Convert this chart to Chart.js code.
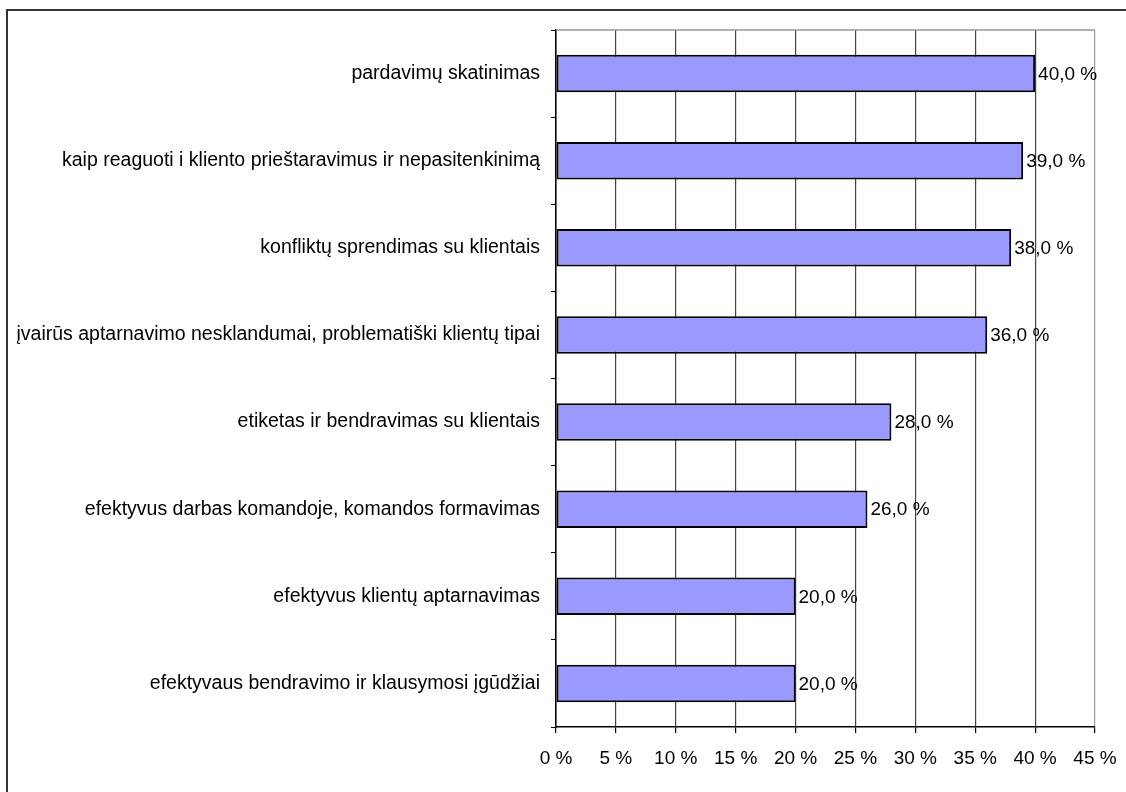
<!DOCTYPE html>
<html>
<head>
<meta charset="utf-8">
<script src="https://cdn.jsdelivr.net/npm/chart.js@4/dist/chart.umd.min.js"></script>
<style>
    body { margin: 0; background: #fff; }
</style>
</head>
<body>
<canvas id="myChart" width="1126" height="792"></canvas>
<script>
const labels = [
    'pardavimų skatinimas',
    'kaip reaguoti i kliento prieštaravimus ir nepasitenkinimą',
    'konfliktų sprendimas su klientais',
    'įvairūs aptarnavimo nesklandumai, problematiški klientų tipai',
    'etiketas ir bendravimas su klientais',
    'efektyvus darbas komandoje, komandos formavimas',
    'efektyvus klientų aptarnavimas',
    'efektyvaus bendravimo ir klausymosi įgūdžiai'
];
const values = [40, 39, 38, 36, 28, 26, 20, 20];
const xMax = 45;
const xStep = 5;

const fontFamily = '"Liberation Sans", Arial, sans-serif';

// outer frame + top border of the plot
const framePlugin = {
    id: 'frame',
    beforeDraw(chart) {
        let ctx = chart.ctx;
        ctx.save();
        ctx.fillStyle = '#fff';
        ctx.fillRect(0, 0, chart.width, chart.height);
        ctx.strokeStyle = '#333';
        ctx.lineWidth = 2;
        ctx.beginPath();
        ctx.moveTo(7, chart.height + 5);
        ctx.lineTo(7, 10);
        ctx.lineTo(chart.width + 5, 10);
        ctx.stroke();
        ctx.restore();
    },
    afterDraw(chart) {
        let a = chart.chartArea;
        let ctx = chart.ctx;
        ctx.save();
        ctx.strokeStyle = '#999';
        ctx.lineWidth = 1.5;
        ctx.beginPath();
        ctx.moveTo(a.left, a.top);
        ctx.lineTo(a.right, a.top);
        ctx.stroke();
        ctx.restore();
    }
};

// value labels right of each bar
const valueLabels = {
    id: 'valueLabels',
    afterDatasetsDraw(chart) {
        let ctx = chart.ctx;
        let meta = chart.getDatasetMeta(0);
        ctx.save();
        ctx.font = '19px ' + fontFamily;
        ctx.fillStyle = '#000';
        ctx.textAlign = 'left';
        ctx.textBaseline = 'middle';
        meta.data.forEach(function (bar, i) {
            let txt = values[i].toFixed(1).replace('.', ',') + ' %';
            ctx.fillText(txt, bar.x + 3, bar.y + 1);
        });
        ctx.restore();
    }
};

let myChart = new Chart('myChart', {
    type: 'bar',
    data: {
        labels: labels,
        datasets: [{
            data: values,
            backgroundColor: '#9999ff',
            borderColor: '#000',
            borderWidth: 2,
            borderSkipped: false,
            barPercentage: 0.43,
            categoryPercentage: 1
        }]
    },
    options: {
        indexAxis: 'y',
        responsive: false,
        animation: false,
        layout: { padding: { top: 30, right: 31, left: 0, bottom: 0 } },
        plugins: {
            legend: { display: false },
            tooltip: { enabled: false }
        },
        scales: {
            x: {
                min: 0,
                max: xMax,
                ticks: {
                    stepSize: xStep,
                    color: '#000',
                    padding: 14,
                    maxRotation: 0,
                    font: { family: fontFamily, size: 19 },
                    callback: function (v) { return v + ' %'; }
                },
                grid: {
                    color: function (c) { return c.tick && c.tick.value === xMax ? '#999' : '#444'; },
                    lineWidth: 1.2,
                    tickColor: '#000',
                    tickLength: 6
                },
                border: { color: '#000', width: 1.5 },
                afterFit: function (scale) {
                    scale.height = 65;
                    scale.paddingLeft = 0;
                    scale.paddingRight = 0;
                }
            },
            y: {
                ticks: {
                    color: '#000',
                    padding: 11,
                    font: { family: fontFamily, size: 19.5 }
                },
                grid: {
                    drawOnChartArea: false,
                    tickColor: '#000',
                    tickLength: 5,
                    offset: true
                },
                border: { color: '#000', width: 1.5 },
                afterFit: function (scale) { scale.width = 556; }
            }
        }
    },
    plugins: [framePlugin, valueLabels]
});
</script>
</body>
</html>
